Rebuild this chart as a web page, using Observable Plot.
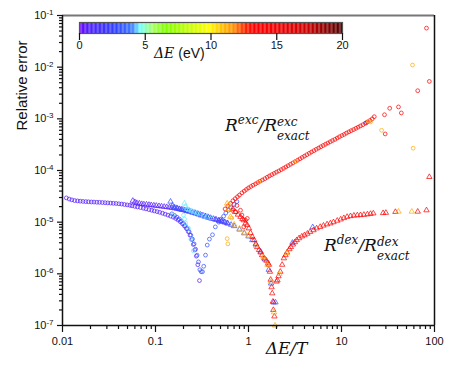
<!DOCTYPE html>
<html>
<head>
<meta charset="utf-8">
<script src="https://cdn.jsdelivr.net/npm/d3@7"></script>
<script src="https://cdn.jsdelivr.net/npm/@observablehq/plot@0.6"></script>
<style>
  body { margin: 0; background: #fff; }
  #wrap { position: relative; width: 460px; height: 370px; font-family: "Liberation Sans", Arial, sans-serif; }
  #wrap svg { position: absolute; }
  .ann { position: absolute; font-family: "DejaVu Serif", serif; font-style: italic; font-size: 17px; line-height: 18px; white-space: nowrap; color: #111; }
  .ann sup.s { font-size: 12px; vertical-align: 7px; line-height: 10px; }
  .ann .ss { display: inline-block; vertical-align: -9px; font-size: 12px; line-height: 14px; }
  .ann .ss span { display: block; height: 14px; line-height: 14px; }
  .cbl { position: absolute; font-size: 14px; white-space: nowrap; color: #111; }
  .cbl i { font-family: "DejaVu Serif", serif; }
</style>
</head>
<body>
<div id="wrap"></div>
<script>
// ---------- Data ----------
// Exc (circles), ΔE ≈ 0.6 eV (purple)
const excPurpleX = [0.011,0.0118,0.0126,0.0135,0.0145,0.0155,0.0166,0.0178,0.019,0.0204,0.0218,0.0234,0.025,0.0268,0.0287,0.0307,0.0329,0.0352,0.0377,0.0404,0.0432,0.0463,0.0496,0.053,0.056,0.06,0.064,0.069,0.074,0.079,0.085,0.091,0.097,0.104,0.111,0.119,0.127,0.136,0.145,0.155,0.165,0.175,0.185,0.195,0.205,0.215,0.225,0.235,0.245,0.255,0.265,0.275,0.285,0.297];
const excPurpleY = [2.95e-5,2.8e-5,2.7e-5,2.62e-5,2.58e-5,2.55e-5,2.52e-5,2.5e-5,2.48e-5,2.46e-5,2.45e-5,2.43e-5,2.42e-5,2.4e-5,2.38e-5,2.36e-5,2.34e-5,2.32e-5,2.3e-5,2.27e-5,2.24e-5,2.2e-5,2.16e-5,2.12e-5,2.07e-5,2.02e-5,1.97e-5,1.92e-5,1.86e-5,1.81e-5,1.75e-5,1.7e-5,1.65e-5,1.6e-5,1.55e-5,1.49e-5,1.43e-5,1.37e-5,1.31e-5,1.25e-5,1.18e-5,1.1e-5,1.02e-5,9.3e-6,8.4e-6,7.5e-6,6.6e-6,5.6e-6,4.6e-6,3.7e-6,2.9e-6,2.2e-6,1.5e-6,7.4e-7];
// Exc, ΔE ≈ 3 eV (blue)
const excBlueX = [0.15,0.16,0.17,0.18,0.19,0.2,0.21,0.22,0.23,0.24,0.25,0.26,0.27,0.28,0.29,0.3,0.31,0.32,0.33,0.345,0.36,0.38,0.41,0.44,0.48,0.51,0.54,0.57,0.61,0.65,0.7,0.75,18.5];
const excBlueY = [1.45e-5,1.35e-5,1.25e-5,1.15e-5,1.05e-5,9.5e-6,8.5e-6,7.5e-6,6.5e-6,5.6e-6,4.7e-6,3.8e-6,3.0e-6,2.3e-6,1.7e-6,1.2e-6,1.1e-6,1.1e-6,1.4e-6,2.3e-6,3.6e-6,4.7e-6,5.7e-6,8.1e-6,1.0e-5,1.15e-5,1.3e-5,1.5e-5,1.7e-5,1.9e-5,2.2e-5,2.5e-5,8.4e-4];
// Exc, ΔE ≈ 4.5 eV (light blue)
const excLightX = [0.153,0.2,0.205,0.21,0.227,0.24,0.255];
const excLightY = [1.37e-5,1.37e-5,1.15e-5,9.7e-6,7.6e-6,4.7e-6,2.8e-6];
// Exc, ΔE ≈ 11 eV (orange)
const excOrangeX = [0.59,0.6,0.62,0.66,1.3,3.2,19.5,20.5,27,58,59];
const excOrangeY = [4.8e-6,3.8e-6,2.2e-5,1.2e-5,6.1e-5,1.5e-4,8.9e-4,8.7e-4,6.0e-4,1.1e-2,2.7e-4];
// Exc, ΔE ≈ 13.5 eV (red)
const excRedX = [0.56,0.6,0.64,0.68,0.72,0.76,0.8,0.85,0.9,0.95,1.0,1.06,1.12,1.19,1.26,1.33,1.41,1.5,1.59,1.68,1.78,1.89,2.0,2.12,2.25,2.38,2.52,2.67,2.83,3.0,3.18,3.37,3.57,3.78,4.0,4.24,4.5,4.76,5.05,5.35,5.67,6.0,6.36,6.74,7.14,7.57,8.0,8.5,9.0,9.5,10.1,10.7,11.3,12.0,12.7,13.5,14.3,15.1,16.0,17.0,18.0,19.0,20.2,21.4,22.5,29,33,41,44,29.5,66,88,82,0.67,0.73,0.82,0.85,0.93,0.97,0.89,0.75];
const excRedY = [1.8e-5,2.05e-5,2.3e-5,2.6e-5,2.85e-5,3.1e-5,3.35e-5,3.7e-5,4.0e-5,4.3e-5,4.6e-5,4.9e-5,5.2e-5,5.5e-5,5.85e-5,6.2e-5,6.55e-5,6.95e-5,7.4e-5,7.85e-5,8.3e-5,8.8e-5,9.3e-5,9.8e-5,1.04e-4,1.1e-4,1.17e-4,1.24e-4,1.32e-4,1.4e-4,1.49e-4,1.58e-4,1.68e-4,1.79e-4,1.9e-4,2.02e-4,2.15e-4,2.28e-4,2.42e-4,2.57e-4,2.72e-4,2.88e-4,3.05e-4,3.22e-4,3.4e-4,3.6e-4,3.8e-4,4.0e-4,4.25e-4,4.5e-4,4.75e-4,5.0e-4,5.3e-4,5.6e-4,5.9e-4,6.2e-4,6.55e-4,6.9e-4,7.3e-4,7.7e-4,8.2e-4,8.7e-4,9.3e-4,1.0e-3,1.1e-3,1.2e-3,1.6e-3,1.7e-3,1.3e-3,5.1e-4,3.5e-3,5.3e-3,5.7e-2,1.7e-5,1.58e-5,1.7e-5,1.37e-5,1.09e-5,1.18e-5,8.1e-6,2.1e-5];

// Dex (triangles), ΔE ≈ 0.6 eV (purple)
const dexPurpleX = [0.057,0.06,0.063,0.067,0.071,0.075,0.08,0.085,0.09,0.096,0.102,0.109,0.116,0.124,0.132,0.141,0.15,0.16,0.171,0.182,0.194,0.207,0.22,0.235,0.25,0.267,0.285,0.304,0.324,0.345,0.368,0.39,0.42,0.45,0.48,0.51,0.55,0.59,1.86];
const dexPurpleY = [2.6e-5,2.45e-5,2.35e-5,2.3e-5,2.25e-5,2.22e-5,2.2e-5,2.17e-5,2.14e-5,2.11e-5,2.08e-5,2.05e-5,2.02e-5,1.99e-5,1.96e-5,1.93e-5,1.9e-5,1.86e-5,1.82e-5,1.78e-5,1.74e-5,1.7e-5,1.66e-5,1.61e-5,1.56e-5,1.51e-5,1.46e-5,1.41e-5,1.36e-5,1.31e-5,1.26e-5,1.21e-5,1.16e-5,1.12e-5,1.08e-5,1.04e-5,1.0e-5,9.6e-6,2.8e-7];
// Dex, ΔE ≈ 3 eV (blue)
const dexBlueX = [0.145,0.152,0.16,0.17,0.18,0.19,0.2,0.215,0.23,0.25,0.27,0.29,0.31,0.34,0.37,0.4,0.44,0.48,0.52,0.56,0.6,0.65,0.7,0.8,0.9,1.0,1.1,1.2,1.35,1.5,1.65,1.75,1.95,2.97,4.9];
const dexBlueY = [2.5e-5,2.1e-5,1.95e-5,1.88e-5,1.8e-5,1.75e-5,1.72e-5,1.66e-5,1.6e-5,1.53e-5,1.47e-5,1.41e-5,1.35e-5,1.28e-5,1.22e-5,1.17e-5,1.12e-5,1.07e-5,1.03e-5,9.9e-6,9.4e-6,8.9e-6,8.4e-6,7.2e-6,6.1e-6,5.3e-6,4.5e-6,3.7e-6,2.7e-6,1.9e-6,1.2e-6,6.5e-7,2.8e-7,4.0e-6,8.0e-6];
// Dex, ΔE ≈ 4.5 eV (light blue)
const dexLightX = [0.205,0.21,0.22,0.23,0.245,0.26,0.28,0.3,0.33,0.36,0.4];
const dexLightY = [2.3e-5,2.0e-5,1.8e-5,1.72e-5,1.64e-5,1.57e-5,1.5e-5,1.43e-5,1.35e-5,1.28e-5,1.2e-5];
// Dex, ΔE ≈ 11 eV (orange)
const dexOrangeX = [0.59,0.61,0.64,0.7,0.8,0.9,1.0,1.2,1.45,1.6,1.74,1.88,1.93,2.15,2.6,41,57];
const dexOrangeY = [2.3e-5,1.8e-5,1.27e-5,9.0e-6,7.5e-6,6.3e-6,5.5e-6,3.5e-6,2.1e-6,1.5e-6,7.0e-7,1.8e-7,1.0e-7,1.0e-6,2.5e-6,1.6e-5,1.6e-5];
// Dex, ΔE ≈ 13.5 eV (red)
const dexRedX = [0.68,0.72,0.77,0.82,0.86,0.89,0.93,0.97,1.01,1.05,1.1,1.15,1.2,1.24,1.3,1.35,1.4,1.48,1.56,1.62,1.66,1.7,1.73,1.77,1.8,1.83,1.85,1.9,2.0,2.05,2.1,2.2,2.3,2.4,2.5,2.6,2.75,2.85,3.0,3.15,3.3,3.5,3.75,4.0,4.3,4.6,5.0,5.4,5.9,6.4,7.0,7.6,8.2,9.0,9.8,10.6,11.5,12.5,13.6,14.8,16,17.4,19,20.5,22,28,30,38,66,82,88];
const dexRedY = [1.8e-5,1.58e-5,1.4e-5,1.27e-5,1.15e-5,1.09e-5,9.5e-6,8.8e-6,7.6e-6,6.2e-6,5.2e-6,4.5e-6,3.8e-6,3.3e-6,2.9e-6,2.6e-6,2.3e-6,2.0e-6,1.8e-6,1.6e-6,1.5e-6,1.1e-6,7.7e-7,5.5e-7,4.2e-7,2.9e-7,2.0e-7,1.5e-7,7.1e-7,7.5e-7,9.0e-7,1.1e-6,1.5e-6,2.0e-6,2.3e-6,2.6e-6,3.0e-6,3.3e-6,3.7e-6,4.1e-6,4.5e-6,4.9e-6,5.3e-6,5.6e-6,6.0e-6,6.5e-6,7.0e-6,7.6e-6,8.1e-6,8.6e-6,9.1e-6,9.5e-6,1.0e-5,1.07e-5,1.13e-5,1.2e-5,1.27e-5,1.31e-5,1.34e-5,1.36e-5,1.37e-5,1.39e-5,1.42e-5,1.45e-5,1.48e-5,1.5e-5,1.52e-5,1.58e-5,1.6e-5,1.7e-5,7.5e-5];

// Colour map (ΔE in eV)
const cmapStops = [0, 0.7, 2.7, 4.0, 4.6, 5.6, 6.5, 8.6, 9.8, 10.8, 11.7, 12.5, 13.2, 15, 17.2, 19.3, 20];
const cmapColors = ["#6a00ff","#5020ff","#3040ff","#3f7fff","#70ffff","#a8ff60","#80ff00","#d0ff00","#ffff00","#ffc000","#ff9000","#ff3000","#ff0000","#f00000","#d00000","#700000","#500000"];
const cbarTicks = [0, 5, 10, 15, 20];

// Axis ticks
const xMajor = [0.01, 0.1, 1, 10, 100];
const yMajor = [1e-7, 1e-6, 1e-5, 1e-4, 1e-3, 1e-2, 1e-1];
const mantissas = [2, 3, 4, 5, 6, 7, 8, 9];
const xMinor = xMajor.slice(0, -1).flatMap(d => mantissas.map(m => m * d));
const yMinor = yMajor.slice(0, -1).flatMap(d => mantissas.map(m => m * d));

// ---------- Build rows ----------
const rows = [];
function add(xs, ys, dE, kind) { xs.forEach((x, i) => rows.push({x, y: ys[i], dE, kind})); }
add(excPurpleX, excPurpleY, 0.6, "exc");
add(dexPurpleX, dexPurpleY, 0.6, "dex");
add(excBlueX, excBlueY, 3.0, "exc");
add(dexBlueX, dexBlueY, 3.0, "dex");
add(excLightX, excLightY, 4.5, "exc");
add(dexLightX, dexLightY, 4.5, "dex");
add(excRedX, excRedY, 13.5, "exc");
add(dexRedX, dexRedY, 13.5, "dex");
add(excOrangeX, excOrangeY, 11.2, "exc");
add(dexOrangeX, dexOrangeY, 11.2, "dex");

const colorOpts = {type: "linear", domain: cmapStops, range: cmapColors, clamp: true};
const sup = "^";
const noLabel = () => "";

const chart = Plot.plot({
  width: 460, height: 370,
  marginLeft: 62, marginRight: 26, marginTop: 15, marginBottom: 45,
  style: {fontFamily: "'Liberation Sans', Arial, sans-serif", fontSize: "11px", color: "#111", background: "transparent"},
  x: {type: "log", domain: [0.01, 100]},
  y: {type: "log", domain: [1e-7, 1e-1]},
  color: colorOpts,
  marks: [
    Plot.ruleY([1e-1], {stroke: "#777", strokeWidth: 2}),
    Plot.ruleX([100], {stroke: "#111", strokeWidth: 1.5}),
    Plot.dot(rows.filter(d => d.kind === "exc"), {x: "x", y: "y", stroke: "dE", r: 1.9, strokeWidth: 0.85, strokeOpacity: 0.85, symbol: "circle"}),
    Plot.dot(rows.filter(d => d.kind === "dex"), {x: "x", y: "y", stroke: "dE", r: 2.0, strokeWidth: 0.85, strokeOpacity: 0.85, symbol: "triangle"}),
    Plot.axisX({ticks: xMinor, tickSize: 4, tickFormat: noLabel, strokeWidth: 1.2, label: null}),
    Plot.axisX({ticks: xMajor, tickSize: 7, tickPadding: 5, tickFormat: d => String(d), strokeWidth: 1.2, label: null, fontSize: 11}),
    Plot.axisY({ticks: yMinor, tickSize: 3, tickFormat: noLabel, strokeWidth: 1.2, label: null}),
    Plot.axisY({ticks: yMajor, tickSize: 5, tickPadding: 4, tickFormat: d => "10" + sup + Math.round(Math.log10(d)), strokeWidth: 1.2, label: null, fontSize: 11}),
    Plot.ruleX([0.01], {stroke: "#111", strokeWidth: 1.5}),
    Plot.ruleY([1e-7], {stroke: "#111", strokeWidth: 1.5}),
    Plot.text(["Relative error"], {frameAnchor: "left", dx: -40, dy: -40, rotate: -90, fontSize: 15, fill: "#111"}),
    Plot.text(["ΔE/T"], {frameAnchor: "bottom", dx: 38, dy: 28, fontSize: 17, fontStyle: "italic", fontFamily: "'DejaVu Serif', serif", fill: "#111"})
  ]
});

// Superscript exponents on the y tick labels
chart.querySelectorAll('g[aria-label="y-axis tick label"] text').forEach(t => {
  const s = t.textContent;
  if (!s.includes(sup)) return;
  const [b, e] = s.split(sup);
  t.textContent = b;
  const ts = document.createElementNS("http://www.w3.org/2000/svg", "tspan");
  ts.setAttribute("dy", "-0.5em");
  ts.setAttribute("font-size", "8");
  ts.textContent = e;
  t.appendChild(ts);
});

// Colour bar
const rampSteps = d3.range(0, 20, 0.1);
const cbar = Plot.plot({
  width: 300, height: 50,
  marginLeft: 18, marginRight: 19, marginTop: 7, marginBottom: 32,
  style: {fontFamily: "'Liberation Sans', Arial, sans-serif", fontSize: "11px", color: "#111", background: "transparent"},
  x: {domain: [0, 20]},
  color: colorOpts,
  marks: [
    Plot.rect(rampSteps, {x1: d => d, x2: d => d + 0.1, fill: d => d}),
    Plot.frame({stroke: "#555", strokeWidth: 1.2}),
    Plot.axisX({ticks: cbarTicks, tickSize: 7, tickPadding: 1, tickFormat: d => String(d), label: null, strokeWidth: 1.2})
  ]
});

const wrap = document.getElementById("wrap");
chart.style.left = "0px"; chart.style.top = "0px";
wrap.appendChild(chart);
cbar.style.left = "61px"; cbar.style.top = "15px";
wrap.appendChild(cbar);

function addHTML(html, cls, left, top) {
  const d = document.createElement("div");
  d.className = cls; d.innerHTML = html;
  d.style.left = left + "px"; d.style.top = top + "px";
  wrap.appendChild(d);
}
addHTML('<i>ΔE</i> (eV)', "cbl", 154, 45);
addHTML('R<sup class="s">exc</sup>/R<span class="ss"><span>exc</span><span>exact</span></span>', "ann", 225, 115);
addHTML('R<sup class="s">dex</sup>/R<span class="ss"><span>dex</span><span>exact</span></span>', "ann", 324, 235);
</script>
</body>
</html>
